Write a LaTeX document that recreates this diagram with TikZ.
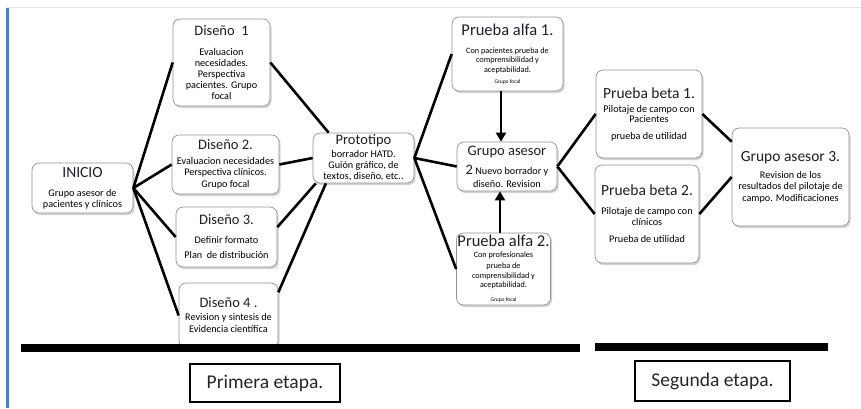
\documentclass[tikz,border=0pt]{standalone}
\usepackage{fontspec}
\setmainfont{Carlito}
\usetikzlibrary{shadows,arrows.meta}
\newcommand\ttlf{\fontsize{14.5}{11}\selectfont}
\newcommand\ttlb{\fontsize{15.5}{11}\selectfont}
\newcommand\ttlc{\fontsize{16.5}{11}\selectfont}
\newcommand\bodyf{\fontsize{10.2}{11}\selectfont}
\newcommand\smlf{\fontsize{8.2}{9.5}\selectfont}
\newcommand\tnyf{\fontsize{5.5}{9.5}\selectfont}
\definecolor{sideblue}{HTML}{4F81BD}
\definecolor{ttlcol}{HTML}{1E1E28}
\tikzset{
  box/.style={draw=gray!85, line width=0.7pt, rounded corners=7pt, fill=white,
    drop shadow={opacity=0.35, shadow xshift=1.5pt, shadow yshift=-2pt},
    align=center, inner sep=1pt, text=black, font=\bodyf},
  conn/.style={line width=2.6pt, draw=black},
  arr/.style={line width=2.6pt, draw=black, -{Triangle[length=9pt,width=10pt]}},
  stagebox/.style={draw=black, line width=1.6pt, fill=white, inner sep=0pt,
    font=\fontsize{19.5}{22}\selectfont, text=black!85},
  stageline/.style={line width=8pt, draw=black}
}
\begin{document}
\begin{tikzpicture}[x=1pt, y=-1pt]
\useasboundingbox (0,0) rectangle (861,408);
\fill[white] (0,0) rectangle (861,408);
\draw[line width=1pt, draw=gray!20] (7,7) -- (861,7);
\draw[line width=3pt, draw=sideblue] (7.5,8) -- (7.5,408);

% nodes
\node[box, minimum width=101pt, minimum height=50pt] (ini) at (82.5,188)
  {{\color{ttlcol}\ttlb INICIO}\\[8pt]Grupo asesor de\\pacientes y clínicos};
\node[box, minimum width=97pt, minimum height=87pt] (d1) at (221.5,62.5)
  {{\color{ttlcol}\ttlf Diseño\ \ 1}\\[9pt]Evaluacion\\necesidades.\\Perspectiva\\pacientes. Grupo\\focal};
\node[box, minimum width=107pt, minimum height=59pt] (d2) at (225.5,164.5)
  {{\color{ttlcol}\ttlf Diseño\ 2.}\\[4pt]Evaluacion necesidades\\Perspectiva clínicos.\\[1pt]Grupo focal};
\node[box, minimum width=101pt, minimum height=60pt] (d3) at (226.5,237)
  {{\color{ttlcol}\ttlf Diseño\ 3.}\\[8pt]Definir formato\\[4pt]Plan\ \ de distribución};
\node[box, minimum width=99pt, minimum height=65pt] (d4) at (228.5,315.5)
  {{\color{ttlcol}\ttlf Diseño\ 4\ .}\\[2pt]Revision y sintesis de\\[1pt]Evidencia científica};
\node[box, minimum width=101pt, minimum height=50pt] (pr) at (363.5,158)
  {{\color{ttlcol}\ttlf Prototipo}\\[2pt]borrador HATD.\\Guión gráfico, de\\textos, diseño, etc..};
\node[box, minimum width=111pt, minimum height=74pt, font=\smlf] (a1) at (507.5,54)
  {{\color{ttlcol}\ttlc Prueba\ alfa 1.}\\[8.5pt]Con pacientes prueba de\\comprensibilidad\ y\\aceptabilidad.\\[1.5pt]{\tnyf Grupo focal}};
\node[box, minimum width=100pt, minimum height=49pt] (g2) at (507,166.5)
  {{\color{ttlcol}\ttlf Grupo\ asesor}\\[6pt]{\color{ttlcol}\ttlf 2}\ Nuevo borrador y\\[2pt]diseño. Revision};
\node[box, minimum width=93pt, minimum height=72pt, font=\smlf] (a2) at (503.5,269)
  {{\color{ttlcol}\ttlc Prueba\ alfa 2.}\\[1.5pt]Con profesionales\\[1pt]prueba de\\[0.5pt]comprensibilidad y\\aceptabilidad.\\[4.5pt]{\tnyf Grupo focal}};
\node[box, minimum width=106pt, minimum height=88pt] (b1) at (649,114)
  {{\color{ttlcol}\ttlb Prueba\ beta 1.}\\[3pt]Pilotaje de campo con\\[-1pt]Pacientes\\[6pt]prueba de utilidad};
\node[box, minimum width=104pt, minimum height=98pt] (b2) at (647,214)
  {{\color{ttlcol}\ttlb Prueba\ beta 2.}\\[8pt]Pilotaje de campo con\\clínicos\\[6pt]Prueba de utilidad};
\node[box, minimum width=117pt, minimum height=98pt] (g3) at (790.5,177)
  {{\color{ttlcol}\ttlb Grupo\ asesor 3.}\\[6pt]Revision de los\\resultados del pilotaje de\\[1pt]campo. Modificaciones};

% connectors
\draw[conn] (ini.east) -- (d1.west);
\draw[conn] (ini.east) -- (d2.west);
\draw[conn] (ini.east) -- (d3.west);
\draw[conn] (ini.east) -- (d4.west);
\draw[conn] (d1.east) -- (pr.144);
\draw[conn] (d2.east) -- (pr.west);
\draw[conn] (d3.11) -- (pr.208);
\draw[conn] (d4.25) -- (pr.214);
\draw[conn] (pr.east) -- (a1.west);
\draw[conn] (pr.east) -- (g2.west);
\draw[conn] (pr.east) -- (a2.west);
\draw[arr] ([xshift=-6.5pt]a1.south) -- ([xshift=-6.5pt]a1.south |- g2.north);
\draw[arr] ([xshift=-3.5pt]a2.north) -- ([xshift=-3.5pt]a2.north |- g2.south);
\draw[conn] (g2.east) -- (b1.west);
\draw[conn] (g2.east) -- (b2.west);
\draw[conn] (b1.east) -- (g3.149);
\draw[conn] (b2.east) -- (g3.west);

% stages
\draw[stageline] (21,348) -- (580,348);
\draw[stageline] (595,347) -- (828,347);
\node[stagebox, minimum width=150pt, minimum height=38pt] (s1) at (265,383) {Primera etapa.};
\node[stagebox, minimum width=155pt, minimum height=40pt] (s2) at (712.5,381) {Segunda etapa.};
\end{tikzpicture}
\end{document}
